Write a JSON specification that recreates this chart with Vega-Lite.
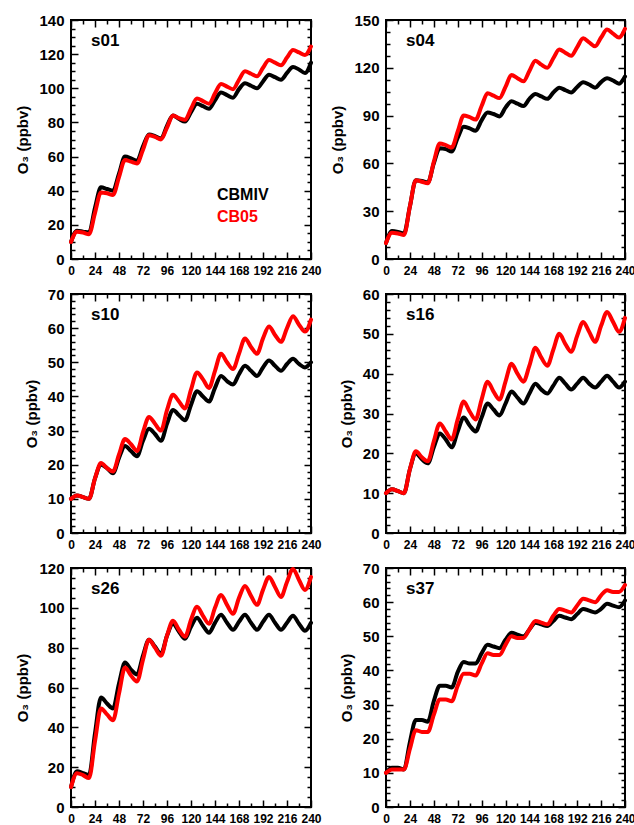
{
  "$schema": "https://vega.github.io/schema/vega-lite/v6.json",
  "padding": {"left": 14, "top": 12, "right": 5, "bottom": 5},
  "background": "white",
  "bounds": "flush",
  "columns": 2,
  "spacing": {"row": 35, "column": 75},
  "data": {"values": [
    {"p":"s01","t":0,"CBMIV":10,"CB05":10},{"p":"s01","t":6,"CBMIV":16.5,"CB05":16},{"p":"s01","t":12,"CBMIV":16,"CB05":15.5},{"p":"s01","t":18,"CBMIV":15.5,"CB05":14.5},
    {"p":"s01","t":24,"CBMIV":30,"CB05":27},{"p":"s01","t":30,"CBMIV":42,"CB05":39},{"p":"s01","t":36,"CBMIV":41,"CB05":38.5},{"p":"s01","t":42,"CBMIV":40,"CB05":37.5},
    {"p":"s01","t":48,"CBMIV":50,"CB05":48},{"p":"s01","t":54,"CBMIV":60,"CB05":58},{"p":"s01","t":60,"CBMIV":59,"CB05":57},{"p":"s01","t":66,"CBMIV":57.5,"CB05":56},
    {"p":"s01","t":72,"CBMIV":66,"CB05":64},{"p":"s01","t":78,"CBMIV":73,"CB05":72.5},{"p":"s01","t":84,"CBMIV":72,"CB05":71.5},{"p":"s01","t":90,"CBMIV":70.5,"CB05":70},
    {"p":"s01","t":96,"CBMIV":78,"CB05":77},{"p":"s01","t":102,"CBMIV":84,"CB05":84},{"p":"s01","t":108,"CBMIV":82,"CB05":82.5},{"p":"s01","t":114,"CBMIV":80.5,"CB05":81.5},
    {"p":"s01","t":120,"CBMIV":86,"CB05":88},{"p":"s01","t":126,"CBMIV":91,"CB05":94},{"p":"s01","t":132,"CBMIV":89.5,"CB05":92.5},{"p":"s01","t":138,"CBMIV":88,"CB05":91},
    {"p":"s01","t":144,"CBMIV":93,"CB05":97},{"p":"s01","t":150,"CBMIV":97.5,"CB05":102.5},{"p":"s01","t":156,"CBMIV":96,"CB05":101},{"p":"s01","t":162,"CBMIV":94.5,"CB05":99.5},
    {"p":"s01","t":168,"CBMIV":99.5,"CB05":105},{"p":"s01","t":174,"CBMIV":103,"CB05":110},{"p":"s01","t":180,"CBMIV":101.5,"CB05":108.5},{"p":"s01","t":186,"CBMIV":100,"CB05":107},
    {"p":"s01","t":192,"CBMIV":104,"CB05":112},{"p":"s01","t":198,"CBMIV":108,"CB05":116.5},{"p":"s01","t":204,"CBMIV":106.5,"CB05":115},{"p":"s01","t":210,"CBMIV":105,"CB05":113.5},
    {"p":"s01","t":216,"CBMIV":109,"CB05":118},{"p":"s01","t":222,"CBMIV":112.5,"CB05":122.5},{"p":"s01","t":228,"CBMIV":111,"CB05":121},{"p":"s01","t":234,"CBMIV":109,"CB05":119.5},
    {"p":"s01","t":240,"CBMIV":115,"CB05":124.5},

    {"p":"s04","t":0,"CBMIV":10,"CB05":10},{"p":"s04","t":6,"CBMIV":17.5,"CB05":16.5},{"p":"s04","t":12,"CBMIV":17,"CB05":16},{"p":"s04","t":18,"CBMIV":16,"CB05":15},
    {"p":"s04","t":24,"CBMIV":33,"CB05":33},{"p":"s04","t":30,"CBMIV":49.5,"CB05":49.5},{"p":"s04","t":36,"CBMIV":49,"CB05":48.5},{"p":"s04","t":42,"CBMIV":48,"CB05":47.5},
    {"p":"s04","t":48,"CBMIV":60,"CB05":61},{"p":"s04","t":54,"CBMIV":69.5,"CB05":72.5},{"p":"s04","t":60,"CBMIV":69,"CB05":71.5},{"p":"s04","t":66,"CBMIV":67.5,"CB05":70},
    {"p":"s04","t":72,"CBMIV":76,"CB05":80},{"p":"s04","t":78,"CBMIV":83,"CB05":90},{"p":"s04","t":84,"CBMIV":82,"CB05":89},{"p":"s04","t":90,"CBMIV":80.5,"CB05":87.5},
    {"p":"s04","t":96,"CBMIV":87,"CB05":96},{"p":"s04","t":102,"CBMIV":92,"CB05":104},{"p":"s04","t":108,"CBMIV":91,"CB05":102.5},{"p":"s04","t":114,"CBMIV":89.5,"CB05":101},
    {"p":"s04","t":120,"CBMIV":95,"CB05":108},{"p":"s04","t":126,"CBMIV":99,"CB05":115.5},{"p":"s04","t":132,"CBMIV":97.5,"CB05":113.5},{"p":"s04","t":138,"CBMIV":96,"CB05":111.5},
    {"p":"s04","t":144,"CBMIV":100.5,"CB05":118},{"p":"s04","t":150,"CBMIV":103.5,"CB05":124.5},{"p":"s04","t":156,"CBMIV":102,"CB05":122},{"p":"s04","t":162,"CBMIV":100.5,"CB05":120},
    {"p":"s04","t":168,"CBMIV":104.5,"CB05":126},{"p":"s04","t":174,"CBMIV":107.5,"CB05":131.5},{"p":"s04","t":180,"CBMIV":106,"CB05":129.5},{"p":"s04","t":186,"CBMIV":104.5,"CB05":127.5},
    {"p":"s04","t":192,"CBMIV":108,"CB05":133},{"p":"s04","t":198,"CBMIV":111,"CB05":138.5},{"p":"s04","t":204,"CBMIV":109.5,"CB05":136},{"p":"s04","t":210,"CBMIV":107.5,"CB05":133.5},
    {"p":"s04","t":216,"CBMIV":111,"CB05":139},{"p":"s04","t":222,"CBMIV":113.5,"CB05":144},{"p":"s04","t":228,"CBMIV":112,"CB05":141.5},{"p":"s04","t":234,"CBMIV":110,"CB05":139},
    {"p":"s04","t":240,"CBMIV":114.5,"CB05":144.5},

    {"p":"s10","t":0,"CBMIV":10,"CB05":10},{"p":"s10","t":6,"CBMIV":11,"CB05":11},{"p":"s10","t":12,"CBMIV":10.5,"CB05":10.5},{"p":"s10","t":18,"CBMIV":10,"CB05":10},
    {"p":"s10","t":24,"CBMIV":16,"CB05":16},{"p":"s10","t":30,"CBMIV":20,"CB05":20.5},{"p":"s10","t":36,"CBMIV":19,"CB05":19},{"p":"s10","t":42,"CBMIV":17.5,"CB05":18},
    {"p":"s10","t":48,"CBMIV":22,"CB05":23},{"p":"s10","t":54,"CBMIV":25.5,"CB05":27.5},{"p":"s10","t":60,"CBMIV":24,"CB05":26},{"p":"s10","t":66,"CBMIV":22.5,"CB05":24},
    {"p":"s10","t":72,"CBMIV":27,"CB05":29.5},{"p":"s10","t":78,"CBMIV":30.5,"CB05":34},{"p":"s10","t":84,"CBMIV":29,"CB05":32},{"p":"s10","t":90,"CBMIV":27,"CB05":30},
    {"p":"s10","t":96,"CBMIV":32,"CB05":36},{"p":"s10","t":102,"CBMIV":36,"CB05":40.5},{"p":"s10","t":108,"CBMIV":34.5,"CB05":38.5},{"p":"s10","t":114,"CBMIV":33,"CB05":36.5},
    {"p":"s10","t":120,"CBMIV":37.5,"CB05":42},{"p":"s10","t":126,"CBMIV":41.5,"CB05":47},{"p":"s10","t":132,"CBMIV":40,"CB05":45},{"p":"s10","t":138,"CBMIV":38.5,"CB05":42.5},
    {"p":"s10","t":144,"CBMIV":42.5,"CB05":47.5},{"p":"s10","t":150,"CBMIV":46,"CB05":52.5},{"p":"s10","t":156,"CBMIV":44.5,"CB05":50},{"p":"s10","t":162,"CBMIV":43.5,"CB05":48},
    {"p":"s10","t":168,"CBMIV":46.5,"CB05":52.5},{"p":"s10","t":174,"CBMIV":49,"CB05":57},{"p":"s10","t":180,"CBMIV":47.5,"CB05":54.5},{"p":"s10","t":186,"CBMIV":46,"CB05":52.5},
    {"p":"s10","t":192,"CBMIV":48.5,"CB05":57},{"p":"s10","t":198,"CBMIV":50.5,"CB05":60.5},{"p":"s10","t":204,"CBMIV":49,"CB05":58},{"p":"s10","t":210,"CBMIV":47.5,"CB05":56},
    {"p":"s10","t":216,"CBMIV":49.5,"CB05":60},{"p":"s10","t":222,"CBMIV":51,"CB05":63.5},{"p":"s10","t":228,"CBMIV":49.5,"CB05":61},{"p":"s10","t":234,"CBMIV":48.5,"CB05":59},
    {"p":"s10","t":240,"CBMIV":50,"CB05":62.5},

    {"p":"s16","t":0,"CBMIV":10,"CB05":10},{"p":"s16","t":6,"CBMIV":11,"CB05":11},{"p":"s16","t":12,"CBMIV":10.5,"CB05":10.5},{"p":"s16","t":18,"CBMIV":10,"CB05":10},
    {"p":"s16","t":24,"CBMIV":16,"CB05":16},{"p":"s16","t":30,"CBMIV":20,"CB05":20.5},{"p":"s16","t":36,"CBMIV":18.5,"CB05":19},{"p":"s16","t":42,"CBMIV":17.5,"CB05":18},
    {"p":"s16","t":48,"CBMIV":21.5,"CB05":23},{"p":"s16","t":54,"CBMIV":25,"CB05":27.5},{"p":"s16","t":60,"CBMIV":23.5,"CB05":25.5},{"p":"s16","t":66,"CBMIV":21.5,"CB05":23.5},
    {"p":"s16","t":72,"CBMIV":25.5,"CB05":28.5},{"p":"s16","t":78,"CBMIV":29,"CB05":33},{"p":"s16","t":84,"CBMIV":27,"CB05":30.5},{"p":"s16","t":90,"CBMIV":25.5,"CB05":28.5},
    {"p":"s16","t":96,"CBMIV":29,"CB05":33.5},{"p":"s16","t":102,"CBMIV":32.5,"CB05":38},{"p":"s16","t":108,"CBMIV":31,"CB05":35.5},{"p":"s16","t":114,"CBMIV":29.5,"CB05":33.5},
    {"p":"s16","t":120,"CBMIV":32.5,"CB05":38},{"p":"s16","t":126,"CBMIV":35.5,"CB05":42.5},{"p":"s16","t":132,"CBMIV":34,"CB05":40},{"p":"s16","t":138,"CBMIV":32.5,"CB05":38},
    {"p":"s16","t":144,"CBMIV":35,"CB05":42},{"p":"s16","t":150,"CBMIV":37.5,"CB05":46.5},{"p":"s16","t":156,"CBMIV":36,"CB05":44},{"p":"s16","t":162,"CBMIV":35,"CB05":42},
    {"p":"s16","t":168,"CBMIV":37,"CB05":46},{"p":"s16","t":174,"CBMIV":39,"CB05":50},{"p":"s16","t":180,"CBMIV":37.5,"CB05":47.5},{"p":"s16","t":186,"CBMIV":36,"CB05":45.5},
    {"p":"s16","t":192,"CBMIV":37.5,"CB05":49.5},{"p":"s16","t":198,"CBMIV":39,"CB05":53},{"p":"s16","t":204,"CBMIV":37.5,"CB05":50.5},{"p":"s16","t":210,"CBMIV":36.5,"CB05":48},
    {"p":"s16","t":216,"CBMIV":38,"CB05":52},{"p":"s16","t":222,"CBMIV":39.5,"CB05":55.5},{"p":"s16","t":228,"CBMIV":38,"CB05":53},{"p":"s16","t":234,"CBMIV":36.5,"CB05":50.5},
    {"p":"s16","t":240,"CBMIV":38,"CB05":54},

    {"p":"s26","t":0,"CBMIV":10,"CB05":10},{"p":"s26","t":6,"CBMIV":18,"CB05":17},{"p":"s26","t":12,"CBMIV":17,"CB05":16},{"p":"s26","t":18,"CBMIV":16,"CB05":14.5},
    {"p":"s26","t":24,"CBMIV":37,"CB05":33},{"p":"s26","t":30,"CBMIV":55,"CB05":49.5},{"p":"s26","t":36,"CBMIV":52,"CB05":46.5},{"p":"s26","t":42,"CBMIV":49.5,"CB05":43.5},
    {"p":"s26","t":48,"CBMIV":62,"CB05":57},{"p":"s26","t":54,"CBMIV":72.5,"CB05":70},{"p":"s26","t":60,"CBMIV":69,"CB05":66},{"p":"s26","t":66,"CBMIV":66.5,"CB05":63},
    {"p":"s26","t":72,"CBMIV":76,"CB05":74},{"p":"s26","t":78,"CBMIV":84,"CB05":84},{"p":"s26","t":84,"CBMIV":80.5,"CB05":80},{"p":"s26","t":90,"CBMIV":77,"CB05":76},
    {"p":"s26","t":96,"CBMIV":86,"CB05":86},{"p":"s26","t":102,"CBMIV":92,"CB05":93.5},{"p":"s26","t":108,"CBMIV":88,"CB05":89},{"p":"s26","t":114,"CBMIV":84.5,"CB05":85.5},
    {"p":"s26","t":120,"CBMIV":90.5,"CB05":94},{"p":"s26","t":126,"CBMIV":95,"CB05":100.5},{"p":"s26","t":132,"CBMIV":91,"CB05":96},{"p":"s26","t":138,"CBMIV":87.5,"CB05":92},
    {"p":"s26","t":144,"CBMIV":92.5,"CB05":100},{"p":"s26","t":150,"CBMIV":96.5,"CB05":106.5},{"p":"s26","t":156,"CBMIV":92.5,"CB05":101.5},{"p":"s26","t":162,"CBMIV":89,"CB05":97},
    {"p":"s26","t":168,"CBMIV":93,"CB05":105},{"p":"s26","t":174,"CBMIV":96.5,"CB05":111},{"p":"s26","t":180,"CBMIV":92.5,"CB05":106},{"p":"s26","t":186,"CBMIV":89,"CB05":101.5},
    {"p":"s26","t":192,"CBMIV":93,"CB05":109},{"p":"s26","t":198,"CBMIV":96.5,"CB05":115.5},{"p":"s26","t":204,"CBMIV":92.5,"CB05":110.5},{"p":"s26","t":210,"CBMIV":89,"CB05":105.5},
    {"p":"s26","t":216,"CBMIV":92.5,"CB05":113},{"p":"s26","t":222,"CBMIV":96,"CB05":119.5},{"p":"s26","t":228,"CBMIV":92,"CB05":114},{"p":"s26","t":234,"CBMIV":88.5,"CB05":109},
    {"p":"s26","t":240,"CBMIV":92.5,"CB05":115.5},

    {"p":"s37","t":0,"CBMIV":10,"CB05":10},{"p":"s37","t":6,"CBMIV":11.5,"CB05":11},{"p":"s37","t":12,"CBMIV":11.5,"CB05":11},{"p":"s37","t":18,"CBMIV":11,"CB05":11},
    {"p":"s37","t":24,"CBMIV":19,"CB05":17},{"p":"s37","t":30,"CBMIV":25.5,"CB05":22.5},{"p":"s37","t":36,"CBMIV":25.5,"CB05":22},{"p":"s37","t":42,"CBMIV":25,"CB05":22},
    {"p":"s37","t":48,"CBMIV":31,"CB05":27},{"p":"s37","t":54,"CBMIV":35.5,"CB05":31.5},{"p":"s37","t":60,"CBMIV":35.5,"CB05":31.5},{"p":"s37","t":66,"CBMIV":35,"CB05":31},
    {"p":"s37","t":72,"CBMIV":39.5,"CB05":35.5},{"p":"s37","t":78,"CBMIV":42.5,"CB05":39},{"p":"s37","t":84,"CBMIV":42,"CB05":39},{"p":"s37","t":90,"CBMIV":42,"CB05":38.5},
    {"p":"s37","t":96,"CBMIV":45,"CB05":42},{"p":"s37","t":102,"CBMIV":47.5,"CB05":45},{"p":"s37","t":108,"CBMIV":47,"CB05":44.5},{"p":"s37","t":114,"CBMIV":46.5,"CB05":44.5},
    {"p":"s37","t":120,"CBMIV":49,"CB05":47.5},{"p":"s37","t":126,"CBMIV":51,"CB05":50},{"p":"s37","t":132,"CBMIV":50.5,"CB05":49.5},{"p":"s37","t":138,"CBMIV":50,"CB05":49.5},
    {"p":"s37","t":144,"CBMIV":52,"CB05":52},{"p":"s37","t":150,"CBMIV":54,"CB05":54.5},{"p":"s37","t":156,"CBMIV":53.5,"CB05":54},{"p":"s37","t":162,"CBMIV":53,"CB05":53.5},
    {"p":"s37","t":168,"CBMIV":54.5,"CB05":56},{"p":"s37","t":174,"CBMIV":56,"CB05":58},{"p":"s37","t":180,"CBMIV":55.5,"CB05":57.5},{"p":"s37","t":186,"CBMIV":55,"CB05":57},
    {"p":"s37","t":192,"CBMIV":56.5,"CB05":59},{"p":"s37","t":198,"CBMIV":58,"CB05":61},{"p":"s37","t":204,"CBMIV":57.5,"CB05":60.5},{"p":"s37","t":210,"CBMIV":57,"CB05":60},
    {"p":"s37","t":216,"CBMIV":58,"CB05":62},{"p":"s37","t":222,"CBMIV":59.5,"CB05":63.5},{"p":"s37","t":228,"CBMIV":59,"CB05":63},{"p":"s37","t":234,"CBMIV":58.5,"CB05":63},
    {"p":"s37","t":240,"CBMIV":60.5,"CB05":65}
  ]},
  "concat": [
    {
      "width": 240, "height": 239,
      "title": {"text": "s01"},
      "transform": [{"filter": "datum.p === 's01'"}, {"fold": ["CBMIV", "CB05"], "as": ["model", "o3"]}],
      "layer": [
        {"transform": [{"filter": "datum.model === 'CBMIV'"}],
         "mark": {"type": "line", "strokeWidth": 4, "interpolate": "monotone", "strokeCap": "round"},
         "encoding": {
           "x": {"field": "t", "type": "quantitative", "scale": {"domain": [0, 240], "nice": false, "zero": false},
                 "axis": {"orient": "bottom", "values": [0,12,24,36,48,60,72,84,96,108,120,132,144,156,168,180,192,204,216,228,240],
                          "labelExpr": "datum.value % 24 === 0 ? datum.label : ''",
                          "tickSize": {"condition": {"test": "datum.value % 24 === 0", "value": -7}, "value": -4}}},
           "y": {"field": "o3", "type": "quantitative", "scale": {"domain": [0, 140], "nice": false},
                 "axis": {"orient": "left", "title": "O₃ (ppbv)", "values": [0,5,10,15,20,25,30,35,40,45,50,55,60,65,70,75,80,85,90,95,100,105,110,115,120,125,130,135,140],
                          "labelExpr": "datum.value % 20 === 0 ? datum.label : ''",
                          "tickSize": {"condition": {"test": "datum.value % 20 === 0", "value": -7}, "value": -4}}},
           "color": {"field": "model", "type": "nominal", "scale": {"domain": ["CBMIV", "CB05"], "range": ["#000000", "#ff0000"]},
                     "legend": {"orient": "none", "legendX": 130, "legendY": 167, "title": null, "symbolOpacity": 0, "symbolSize": 0, "symbolStrokeWidth": 0,
                                "labelFontSize": 16, "labelFont": "Liberation Sans", "labelFontWeight": "bold", "labelOffset": 0, "rowPadding": 6, "padding": 0,
                                "encode": {"labels": {"update": {"fill": {"scale": "color", "field": "value"}}}}}}
         }},
        {"transform": [{"filter": "datum.model === 'CB05'"}],
         "mark": {"type": "line", "strokeWidth": 4, "interpolate": "monotone", "strokeCap": "round"},
         "encoding": {
           "x": {"field": "t", "type": "quantitative",
                 "axis": {"orient": "top", "labels": false, "values": [0,12,24,36,48,60,72,84,96,108,120,132,144,156,168,180,192,204,216,228,240],
                          "tickSize": {"condition": {"test": "datum.value % 24 === 0", "value": -7}, "value": -4}}},
           "y": {"field": "o3", "type": "quantitative",
                 "axis": {"orient": "right", "labels": false, "title": null, "values": [0,5,10,15,20,25,30,35,40,45,50,55,60,65,70,75,80,85,90,95,100,105,110,115,120,125,130,135,140],
                          "tickSize": {"condition": {"test": "datum.value % 20 === 0", "value": -7}, "value": -4}}},
           "color": {"field": "model", "type": "nominal"}
         }}
      ],
      "resolve": {"axis": {"x": "independent", "y": "independent"}}
    },
    {
      "width": 239, "height": 239,
      "title": {"text": "s04"},
      "transform": [{"filter": "datum.p === 's04'"}, {"fold": ["CBMIV", "CB05"], "as": ["model", "o3"]}],
      "layer": [
        {"transform": [{"filter": "datum.model === 'CBMIV'"}],
         "mark": {"type": "line", "strokeWidth": 4, "interpolate": "monotone", "strokeCap": "round", "color": "#000000"},
         "encoding": {
           "x": {"field": "t", "type": "quantitative", "scale": {"domain": [0, 240], "nice": false, "zero": false},
                 "axis": {"orient": "bottom", "values": [0,12,24,36,48,60,72,84,96,108,120,132,144,156,168,180,192,204,216,228,240],
                          "labelExpr": "datum.value % 24 === 0 ? datum.label : ''",
                          "tickSize": {"condition": {"test": "datum.value % 24 === 0", "value": -7}, "value": -4}}},
           "y": {"field": "o3", "type": "quantitative", "scale": {"domain": [0, 150], "nice": false},
                 "axis": {"orient": "left", "title": "O₃ (ppbv)", "values": [0,7.5,15,22.5,30,37.5,45,52.5,60,67.5,75,82.5,90,97.5,105,112.5,120,127.5,135,142.5,150],
                          "labelExpr": "datum.value % 30 === 0 ? datum.label : ''",
                          "tickSize": {"condition": {"test": "datum.value % 30 === 0", "value": -7}, "value": -4}}}
         }},
        {"transform": [{"filter": "datum.model === 'CB05'"}],
         "mark": {"type": "line", "strokeWidth": 4, "interpolate": "monotone", "strokeCap": "round", "color": "#ff0000"},
         "encoding": {
           "x": {"field": "t", "type": "quantitative",
                 "axis": {"orient": "top", "labels": false, "values": [0,12,24,36,48,60,72,84,96,108,120,132,144,156,168,180,192,204,216,228,240],
                          "tickSize": {"condition": {"test": "datum.value % 24 === 0", "value": -7}, "value": -4}}},
           "y": {"field": "o3", "type": "quantitative",
                 "axis": {"orient": "right", "labels": false, "title": null, "values": [0,7.5,15,22.5,30,37.5,45,52.5,60,67.5,75,82.5,90,97.5,105,112.5,120,127.5,135,142.5,150],
                          "tickSize": {"condition": {"test": "datum.value % 30 === 0", "value": -7}, "value": -4}}}
         }}
      ],
      "resolve": {"axis": {"x": "independent", "y": "independent"}}
    },
    {
      "width": 240, "height": 239,
      "title": {"text": "s10"},
      "transform": [{"filter": "datum.p === 's10'"}, {"fold": ["CBMIV", "CB05"], "as": ["model", "o3"]}],
      "layer": [
        {"transform": [{"filter": "datum.model === 'CBMIV'"}],
         "mark": {"type": "line", "strokeWidth": 4, "interpolate": "monotone", "strokeCap": "round", "color": "#000000"},
         "encoding": {
           "x": {"field": "t", "type": "quantitative", "scale": {"domain": [0, 240], "nice": false, "zero": false},
                 "axis": {"orient": "bottom", "values": [0,12,24,36,48,60,72,84,96,108,120,132,144,156,168,180,192,204,216,228,240],
                          "labelExpr": "datum.value % 24 === 0 ? datum.label : ''",
                          "tickSize": {"condition": {"test": "datum.value % 24 === 0", "value": -7}, "value": -4}}},
           "y": {"field": "o3", "type": "quantitative", "scale": {"domain": [0, 70], "nice": false},
                 "axis": {"orient": "left", "title": "O₃ (ppbv)", "values": [0,2,4,6,8,10,12,14,16,18,20,22,24,26,28,30,32,34,36,38,40,42,44,46,48,50,52,54,56,58,60,62,64,66,68,70],
                          "labelExpr": "datum.value % 10 === 0 ? datum.label : ''",
                          "tickSize": {"condition": {"test": "datum.value % 10 === 0", "value": -7}, "value": -4}}}
         }},
        {"transform": [{"filter": "datum.model === 'CB05'"}],
         "mark": {"type": "line", "strokeWidth": 4, "interpolate": "monotone", "strokeCap": "round", "color": "#ff0000"},
         "encoding": {
           "x": {"field": "t", "type": "quantitative",
                 "axis": {"orient": "top", "labels": false, "values": [0,12,24,36,48,60,72,84,96,108,120,132,144,156,168,180,192,204,216,228,240],
                          "tickSize": {"condition": {"test": "datum.value % 24 === 0", "value": -7}, "value": -4}}},
           "y": {"field": "o3", "type": "quantitative",
                 "axis": {"orient": "right", "labels": false, "title": null, "values": [0,2,4,6,8,10,12,14,16,18,20,22,24,26,28,30,32,34,36,38,40,42,44,46,48,50,52,54,56,58,60,62,64,66,68,70],
                          "tickSize": {"condition": {"test": "datum.value % 10 === 0", "value": -7}, "value": -4}}}
         }}
      ],
      "resolve": {"axis": {"x": "independent", "y": "independent"}}
    },
    {
      "width": 239, "height": 239,
      "title": {"text": "s16"},
      "transform": [{"filter": "datum.p === 's16'"}, {"fold": ["CBMIV", "CB05"], "as": ["model", "o3"]}],
      "layer": [
        {"transform": [{"filter": "datum.model === 'CBMIV'"}],
         "mark": {"type": "line", "strokeWidth": 4, "interpolate": "monotone", "strokeCap": "round", "color": "#000000"},
         "encoding": {
           "x": {"field": "t", "type": "quantitative", "scale": {"domain": [0, 240], "nice": false, "zero": false},
                 "axis": {"orient": "bottom", "values": [0,12,24,36,48,60,72,84,96,108,120,132,144,156,168,180,192,204,216,228,240],
                          "labelExpr": "datum.value % 24 === 0 ? datum.label : ''",
                          "tickSize": {"condition": {"test": "datum.value % 24 === 0", "value": -7}, "value": -4}}},
           "y": {"field": "o3", "type": "quantitative", "scale": {"domain": [0, 60], "nice": false},
                 "axis": {"orient": "left", "title": "O₃ (ppbv)", "values": [0,2,4,6,8,10,12,14,16,18,20,22,24,26,28,30,32,34,36,38,40,42,44,46,48,50,52,54,56,58,60],
                          "labelExpr": "datum.value % 10 === 0 ? datum.label : ''",
                          "tickSize": {"condition": {"test": "datum.value % 10 === 0", "value": -7}, "value": -4}}}
         }},
        {"transform": [{"filter": "datum.model === 'CB05'"}],
         "mark": {"type": "line", "strokeWidth": 4, "interpolate": "monotone", "strokeCap": "round", "color": "#ff0000"},
         "encoding": {
           "x": {"field": "t", "type": "quantitative",
                 "axis": {"orient": "top", "labels": false, "values": [0,12,24,36,48,60,72,84,96,108,120,132,144,156,168,180,192,204,216,228,240],
                          "tickSize": {"condition": {"test": "datum.value % 24 === 0", "value": -7}, "value": -4}}},
           "y": {"field": "o3", "type": "quantitative",
                 "axis": {"orient": "right", "labels": false, "title": null, "values": [0,2,4,6,8,10,12,14,16,18,20,22,24,26,28,30,32,34,36,38,40,42,44,46,48,50,52,54,56,58,60],
                          "tickSize": {"condition": {"test": "datum.value % 10 === 0", "value": -7}, "value": -4}}}
         }}
      ],
      "resolve": {"axis": {"x": "independent", "y": "independent"}}
    },
    {
      "width": 240, "height": 239,
      "title": {"text": "s26"},
      "transform": [{"filter": "datum.p === 's26'"}, {"fold": ["CBMIV", "CB05"], "as": ["model", "o3"]}],
      "layer": [
        {"transform": [{"filter": "datum.model === 'CBMIV'"}],
         "mark": {"type": "line", "strokeWidth": 4, "interpolate": "monotone", "strokeCap": "round", "color": "#000000"},
         "encoding": {
           "x": {"field": "t", "type": "quantitative", "scale": {"domain": [0, 240], "nice": false, "zero": false},
                 "axis": {"orient": "bottom", "values": [0,12,24,36,48,60,72,84,96,108,120,132,144,156,168,180,192,204,216,228,240],
                          "labelExpr": "datum.value % 24 === 0 ? datum.label : ''",
                          "tickSize": {"condition": {"test": "datum.value % 24 === 0", "value": -7}, "value": -4}}},
           "y": {"field": "o3", "type": "quantitative", "scale": {"domain": [0, 120], "nice": false},
                 "axis": {"orient": "left", "title": "O₃ (ppbv)", "values": [0,5,10,15,20,25,30,35,40,45,50,55,60,65,70,75,80,85,90,95,100,105,110,115,120],
                          "labelExpr": "datum.value % 20 === 0 ? datum.label : ''",
                          "tickSize": {"condition": {"test": "datum.value % 20 === 0", "value": -7}, "value": -4}}}
         }},
        {"transform": [{"filter": "datum.model === 'CB05'"}],
         "mark": {"type": "line", "strokeWidth": 4, "interpolate": "monotone", "strokeCap": "round", "color": "#ff0000"},
         "encoding": {
           "x": {"field": "t", "type": "quantitative",
                 "axis": {"orient": "top", "labels": false, "values": [0,12,24,36,48,60,72,84,96,108,120,132,144,156,168,180,192,204,216,228,240],
                          "tickSize": {"condition": {"test": "datum.value % 24 === 0", "value": -7}, "value": -4}}},
           "y": {"field": "o3", "type": "quantitative",
                 "axis": {"orient": "right", "labels": false, "title": null, "values": [0,5,10,15,20,25,30,35,40,45,50,55,60,65,70,75,80,85,90,95,100,105,110,115,120],
                          "tickSize": {"condition": {"test": "datum.value % 20 === 0", "value": -7}, "value": -4}}}
         }}
      ],
      "resolve": {"axis": {"x": "independent", "y": "independent"}}
    },
    {
      "width": 239, "height": 239,
      "title": {"text": "s37"},
      "transform": [{"filter": "datum.p === 's37'"}, {"fold": ["CBMIV", "CB05"], "as": ["model", "o3"]}],
      "layer": [
        {"transform": [{"filter": "datum.model === 'CBMIV'"}],
         "mark": {"type": "line", "strokeWidth": 4, "interpolate": "monotone", "strokeCap": "round", "color": "#000000"},
         "encoding": {
           "x": {"field": "t", "type": "quantitative", "scale": {"domain": [0, 240], "nice": false, "zero": false},
                 "axis": {"orient": "bottom", "values": [0,12,24,36,48,60,72,84,96,108,120,132,144,156,168,180,192,204,216,228,240],
                          "labelExpr": "datum.value % 24 === 0 ? datum.label : ''",
                          "tickSize": {"condition": {"test": "datum.value % 24 === 0", "value": -7}, "value": -4}}},
           "y": {"field": "o3", "type": "quantitative", "scale": {"domain": [0, 70], "nice": false},
                 "axis": {"orient": "left", "title": "O₃ (ppbv)", "values": [0,2,4,6,8,10,12,14,16,18,20,22,24,26,28,30,32,34,36,38,40,42,44,46,48,50,52,54,56,58,60,62,64,66,68,70],
                          "labelExpr": "datum.value % 10 === 0 ? datum.label : ''",
                          "tickSize": {"condition": {"test": "datum.value % 10 === 0", "value": -7}, "value": -4}}}
         }},
        {"transform": [{"filter": "datum.model === 'CB05'"}],
         "mark": {"type": "line", "strokeWidth": 4, "interpolate": "monotone", "strokeCap": "round", "color": "#ff0000"},
         "encoding": {
           "x": {"field": "t", "type": "quantitative",
                 "axis": {"orient": "top", "labels": false, "values": [0,12,24,36,48,60,72,84,96,108,120,132,144,156,168,180,192,204,216,228,240],
                          "tickSize": {"condition": {"test": "datum.value % 24 === 0", "value": -7}, "value": -4}}},
           "y": {"field": "o3", "type": "quantitative",
                 "axis": {"orient": "right", "labels": false, "title": null, "values": [0,2,4,6,8,10,12,14,16,18,20,22,24,26,28,30,32,34,36,38,40,42,44,46,48,50,52,54,56,58,60,62,64,66,68,70],
                          "tickSize": {"condition": {"test": "datum.value % 10 === 0", "value": -7}, "value": -4}}}
         }}
      ],
      "resolve": {"axis": {"x": "independent", "y": "independent"}}
    }
  ],
  "config": {
    "font": "Liberation Sans",
    "view": {"stroke": "#000000", "strokeWidth": 2},
    "axis": {"domain": false, "grid": false, "tickColor": "#000000", "tickWidth": 1.5, "labelColor": "#000000",
             "labelFont": "Liberation Sans", "labelFontWeight": "bold", "labelFlush": false, "labelOverlap": false,
             "titleFont": "Liberation Sans", "titleFontWeight": "bold", "titleFontSize": 15, "titleColor": "#000000", "title": null},
    "axisX": {"labelFontSize": 12, "labelPadding": 13},
    "axisY": {"labelFontSize": 15, "labelPadding": 14, "titlePadding": 8},
    "title": {"anchor": "start", "frame": "group", "orient": "top", "offset": -37, "dx": 20, "fontSize": 17, "fontWeight": "bold", "font": "Liberation Sans", "color": "#000000", "baseline": "alphabetic"}
  }
}
